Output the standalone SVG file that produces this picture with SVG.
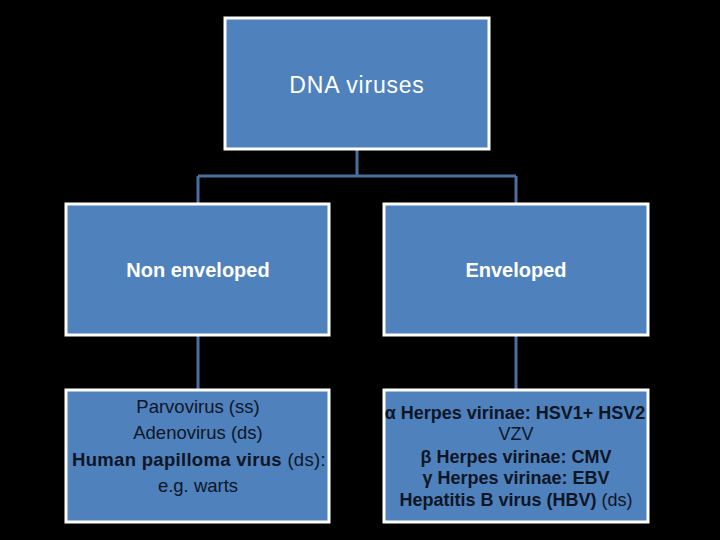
<svg xmlns="http://www.w3.org/2000/svg" width="720" height="540" viewBox="0 0 720 540">
<style>
.box{fill:#4f81bd;stroke:#ffffff;stroke-width:3}
.con{fill:none;stroke:#4a6e9e;stroke-width:3}
.hd{font-family:"Liberation Sans",Arial,sans-serif;fill:#ffffff;text-anchor:middle}
.bd{font-family:"Liberation Sans",Arial,sans-serif;fill:#0e1626;text-anchor:middle}
.b{font-weight:bold}
</style>
<rect x="0" y="0" width="720" height="540" fill="#000000"/>
<g id="connectors">
<path class="con" d="M357 150V176M198 176H516M198 176V203M516 176V203M198 336V390M516 336V390"/>
</g>
<g id="root">
<rect class="box" x="225" y="18" width="264" height="131"/>
<text class="hd" x="357" y="93" font-size="23" letter-spacing="0.8">DNA viruses</text>
</g>
<g id="nonenv">
<rect class="box" x="66" y="204" width="263" height="131"/>
<text class="hd b" x="198" y="277" font-size="20">Non enveloped</text>
</g>
<g id="env">
<rect class="box" x="384" y="204" width="264" height="131"/>
<text class="hd b" x="516" y="277" font-size="20">Enveloped</text>
</g>
<g id="nonenv-list">
<rect class="box" x="66" y="390" width="263" height="132"/>
<text class="bd" font-size="18.5"><tspan x="198" y="413">Parvovirus (ss)</tspan><tspan x="198" y="439">Adenovirus (ds)</tspan><tspan x="199" y="466" letter-spacing="0.3"><tspan class="b">Human papilloma virus</tspan> (ds):</tspan><tspan x="198" y="492">e.g. warts</tspan></text>
</g>
<g id="env-list">
<rect class="box" x="384" y="390" width="264" height="132"/>
<text class="bd" font-size="18"><tspan class="b" x="515" y="419">α Herpes virinae: HSV1+ HSV2</tspan><tspan x="516" y="440">VZV</tspan><tspan class="b" x="516" y="463">β Herpes virinae: CMV</tspan><tspan class="b" x="516" y="484">γ Herpes virinae: EBV</tspan><tspan x="516" y="506"><tspan class="b">Hepatitis B virus (HBV)</tspan> (ds)</tspan></text>
</g>
</svg>
